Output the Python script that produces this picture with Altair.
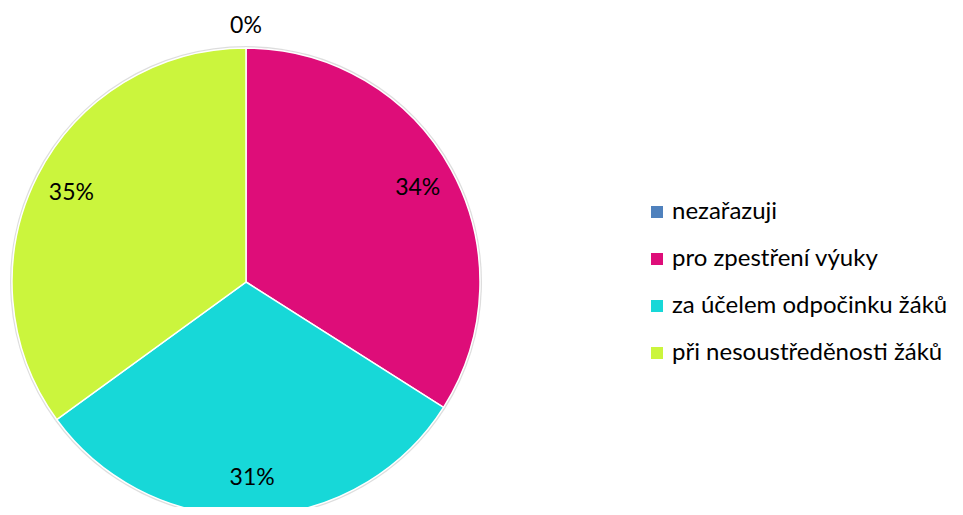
import altair as alt
import pandas as pd

categories = ["nezařazuji", "pro zpestření výuky", "za účelem odpočinku žáků", "při nesoustředěnosti žáků"]
values = [0, 34, 31, 35]
labels = ["0%", "34%", "31%", "35%"]
colors = ["#4F81BD", "#DE0D79", "#17D8D8", "#CBF53D"]

df = pd.DataFrame({
    "cat": categories,
    "val": values,
    "lab": labels,
    "ord": list(range(len(categories))),
})

CX, CY, R = 238, 274, 234
FONT = "Lato"

base = alt.Chart(df).encode(
    theta=alt.Theta("val:Q", stack=True),
    order=alt.Order("ord:Q"),
    x=alt.value(CX),
    y=alt.value(CY),
)

shadow = base.mark_arc(outerRadius=R + 2, color="#d4d4d4", opacity=0.8)

pie = base.mark_arc(outerRadius=R, stroke="white", strokeWidth=1.5).encode(
    color=alt.Color(
        "cat:N",
        scale=alt.Scale(domain=categories, range=colors),
        sort=categories,
        legend=alt.Legend(
            title=None,
            orient="none",
            legendX=637,
            legendY=192,
            labelFontSize=24,
            labelFont=FONT,
            labelColor="#000000",
            symbolType="square",
            symbolSize=144,
            symbolStrokeWidth=0,
            labelOffset=3,
            rowPadding=23,
            labelLimit=400,
        ),
    )
)

text_in = base.mark_text(radius=196, fontSize=23, font=FONT, color="#000000").encode(
    text="lab:N"
).transform_filter(alt.datum.val > 0)

text_out = base.mark_text(radius=256, fontSize=23, font=FONT, color="#000000").encode(
    text="lab:N"
).transform_filter(alt.datum.val == 0)

chart = alt.layer(shadow, pie, text_in, text_out).properties(
    width=947,
    height=499,
    autosize="none",
    padding=0,
).configure(background="white").configure_view(stroke=None)

chart.save("out.html", embed_options={"renderer": "svg", "actions": False})
